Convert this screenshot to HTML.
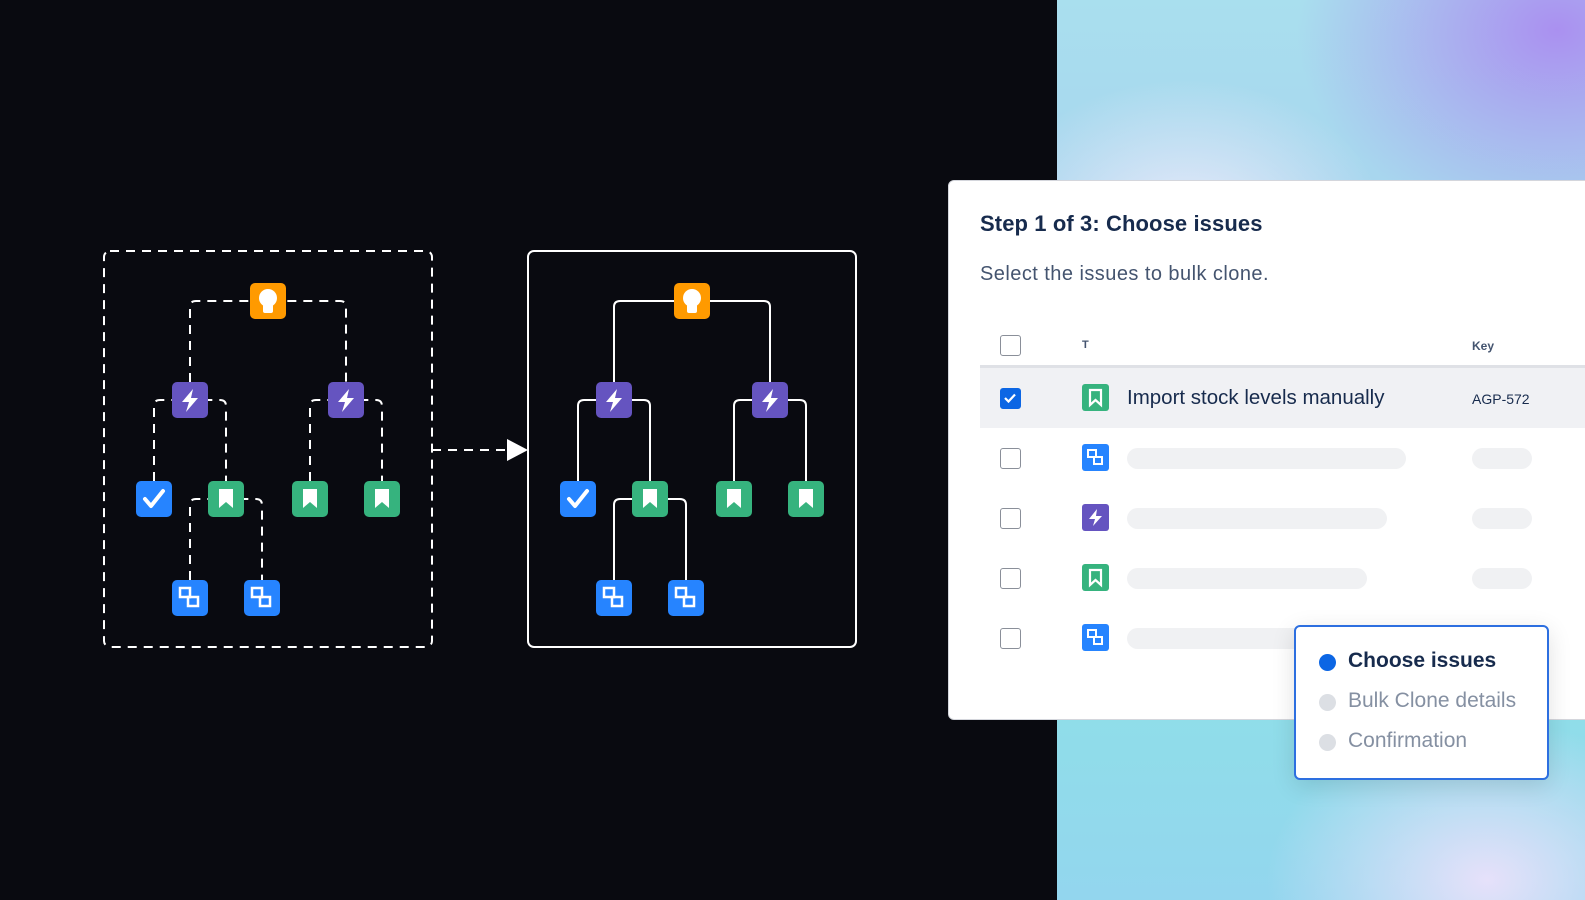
<!DOCTYPE html>
<html><head><meta charset="utf-8"><style>
*{margin:0;padding:0;box-sizing:border-box}
body{width:1585px;height:900px;overflow:hidden;background:#090a10;position:relative;font-family:"Liberation Sans",sans-serif}
.bg{position:absolute;left:1057px;top:0;width:528px;height:900px;
background:
radial-gradient(ellipse 260px 200px at 500px 30px,rgba(170,140,240,.95),rgba(170,140,240,0) 100%),
radial-gradient(ellipse 200px 150px at 130px 230px,rgba(235,235,250,1),rgba(235,235,250,0) 100%),
radial-gradient(ellipse 220px 160px at 430px 880px,rgba(230,225,250,1),rgba(230,225,250,0) 100%),
linear-gradient(180deg,#a9dfee 0%,#a6cdee 40%,#8fdfe8 75%,#93d6ee 100%);}
.panel{position:absolute;left:948px;top:180px;width:660px;height:540px;background:#fff;border:1px solid #d4d6dc;border-radius:6px}
.t{position:absolute;white-space:nowrap}
.cb{position:absolute;left:1000px;width:21px;height:21px;border:1.5px solid #8a8f99;border-radius:3px;background:#fff}
.sk{position:absolute;left:1127px;height:21px;border-radius:11px;background:#f0f1f3}
.kk{position:absolute;left:1472px;width:60px;height:21px;border-radius:11px;background:#f0f1f3}
.dot{position:absolute;left:1319px;width:17px;height:17px;border-radius:50%}
</style></head><body>
<div class="bg"></div>
<svg width="1060" height="900" style="position:absolute;left:0;top:0">
<defs>
<g id="bulb"><rect x="-18" y="-18" width="36" height="36" rx="5" fill="#ff9a00"/><circle cx="0" cy="-3" r="9" fill="#fff"/><rect x="-5" y="3" width="10" height="9" rx="2" fill="#fff"/></g>
<g id="bolt"><rect x="-18" y="-18" width="36" height="36" rx="5" fill="#6554c0"/><path d="M3,-11 L-8,2 L-1,2 L-4,12 L8,-2 L1,-2 Z" fill="#fff"/></g>
<g id="chk"><rect x="-18" y="-18" width="36" height="36" rx="5" fill="#2684ff"/><path d="M-9,0 L-3,7 L9,-8" stroke="#fff" stroke-width="4" fill="none" stroke-linecap="round" stroke-linejoin="round"/></g>
<g id="bm"><rect x="-18" y="-18" width="36" height="36" rx="5" fill="#36b37e"/><path d="M-7,-10 H7 V9 L0,3 L-7,9 Z" fill="#fff"/></g>
<g id="sub"><rect x="-18" y="-18" width="36" height="36" rx="5" fill="#2684ff"/><rect x="-10" y="-10" width="10" height="9" fill="none" stroke="#fff" stroke-width="2.5"/><rect x="-2" y="-1" width="10" height="9" fill="none" stroke="#fff" stroke-width="2.5"/></g>
<g id="lines" fill="none" stroke="#fff" stroke-width="2">
<path d="M190,382 V307 Q190,301 196,301 H340 Q346,301 346,307 V382"/>
<path d="M154,481 V406 Q154,400 160,400 H220 Q226,400 226,406 V481"/>
<path d="M310,481 V406 Q310,400 316,400 H376 Q382,400 382,406 V481"/>
<path d="M190,580 V505 Q190,499 196,499 H256 Q262,499 262,505 V580"/>
</g>
<g id="nodes">
<use href="#bulb" x="268" y="301"/>
<use href="#bolt" x="190" y="400"/><use href="#bolt" x="346" y="400"/>
<use href="#chk" x="154" y="499"/><use href="#bm" x="226" y="499"/><use href="#bm" x="310" y="499"/><use href="#bm" x="382" y="499"/>
<use href="#sub" x="190" y="598"/><use href="#sub" x="262" y="598"/>
</g>
</defs>
<rect x="104" y="251" width="328" height="396" rx="6" fill="none" stroke="#fff" stroke-width="2" stroke-dasharray="9,7"/>
<use href="#lines" stroke-dasharray="9,7"/>
<use href="#nodes"/>
<line x1="432" y1="450" x2="508" y2="450" stroke="#fff" stroke-width="2" stroke-dasharray="9,7"/>
<path d="M507,439 L528,450 L507,461 Z" fill="#fff"/>
<rect x="528" y="251" width="328" height="396" rx="6" fill="none" stroke="#fff" stroke-width="2"/>
<g transform="translate(424,0)"><use href="#lines"/><use href="#nodes"/></g>
</svg>
<div class="panel"></div>
<div class="t" style="left:980px;top:211px;font-size:22px;font-weight:bold;color:#172b4d;letter-spacing:0.1px">Step 1 of 3: Choose issues</div>
<div class="t" style="left:980px;top:263px;font-size:20px;color:#44546f;letter-spacing:0.45px">Select the issues to bulk clone.</div>
<div class="cb" style="top:335px"></div>
<div class="t" style="left:1082px;top:339px;font-size:11px;font-weight:bold;color:#44546f">T</div>
<div class="t" style="left:1472px;top:339px;font-size:12px;font-weight:bold;color:#44546f">Key</div>
<div style="position:absolute;left:980px;top:365px;width:605px;height:3px;background:#dfe1e6"></div>
<div style="position:absolute;left:980px;top:368px;width:605px;height:60px;background:#f0f1f4"></div>
<div class="cb" style="top:388px;background:#0c66e4;border-color:#0c66e4"><svg width="18" height="18" style="position:absolute;left:0;top:0"><path d="M4,9 L7.5,12.5 L14,5.5" stroke="#fff" stroke-width="2.2" fill="none"/></svg></div>
<div class="t" style="left:1127px;top:386px;font-size:20.5px;color:#172b4d">Import stock levels manually</div>
<div class="t" style="left:1472px;top:391px;font-size:14px;color:#172b4d">AGP-572</div>
<svg width="40" height="300" style="position:absolute;left:1075px;top:375px">
<g transform="translate(7,9)"><rect width="27" height="27" rx="3" fill="#36b37e"/><path d="M8,6 H19 V21 L13.5,16 L8,21 Z" fill="none" stroke="#fff" stroke-width="2.2"/></g>
<g transform="translate(7,69)"><rect width="27" height="27" rx="3" fill="#2684ff"/><rect x="6" y="6" width="8" height="7" fill="none" stroke="#fff" stroke-width="2"/><rect x="12" y="13" width="8" height="7" fill="none" stroke="#fff" stroke-width="2"/></g>
<g transform="translate(7,129)"><rect width="27" height="27" rx="3" fill="#6554c0"/><path d="M15,5 L7,15 L13,15 L11,22 L20,12 L14,12 Z" fill="#fff"/></g>
<g transform="translate(7,189)"><rect width="27" height="27" rx="3" fill="#36b37e"/><path d="M8,6 H19 V21 L13.5,16 L8,21 Z" fill="none" stroke="#fff" stroke-width="2.2"/></g>
<g transform="translate(7,249)"><rect width="27" height="27" rx="3" fill="#2684ff"/><rect x="6" y="6" width="8" height="7" fill="none" stroke="#fff" stroke-width="2"/><rect x="12" y="13" width="8" height="7" fill="none" stroke="#fff" stroke-width="2"/></g>
</svg>
<div class="cb" style="top:448px"></div><div class="sk" style="top:448px;width:279px"></div><div class="kk" style="top:448px"></div>
<div class="cb" style="top:508px"></div><div class="sk" style="top:508px;width:260px"></div><div class="kk" style="top:508px"></div>
<div class="cb" style="top:568px"></div><div class="sk" style="top:568px;width:240px"></div><div class="kk" style="top:568px"></div>
<div class="cb" style="top:628px"></div><div class="sk" style="top:628px;width:200px"></div>
<div style="position:absolute;left:1294px;top:625px;width:255px;height:155px;background:#fff;border:2px solid #2d6fe0;border-radius:6px;box-shadow:0 6px 24px rgba(0,0,0,.12)"></div>
<div class="dot" style="top:654px;background:#0c66e4"></div>
<div class="t" style="left:1348px;top:649px;font-size:21px;font-weight:bold;color:#172b4d">Choose issues</div>
<div class="dot" style="top:694px;background:#dcdfe4"></div>
<div class="t" style="left:1348px;top:689px;font-size:21px;color:#8590a2">Bulk Clone details</div>
<div class="dot" style="top:734px;background:#dcdfe4"></div>
<div class="t" style="left:1348px;top:729px;font-size:21px;color:#8590a2">Confirmation</div>
</body></html>
